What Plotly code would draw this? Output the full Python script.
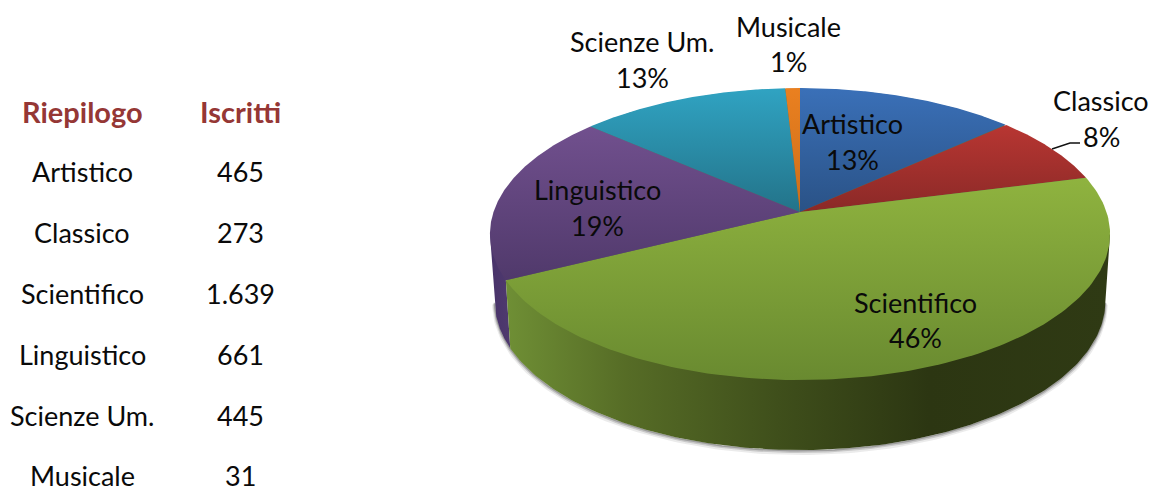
import numpy as np
import plotly.graph_objects as go

categories = ["Artistico", "Classico", "Scientifico", "Linguistico", "Scienze Um.", "Musicale"]
iscritti = [465, 273, 1639, 661, 445, 31]
iscritti_labels = ["465", "273", "1.639", "661", "445", "31"]
percent_labels = ["13%", "8%", "46%", "19%", "13%", "1%"]
top_colors = [("#3a70b8", "#2a5286"), ("#b83632", "#8a2927"), ("#8fb33f", "#698a30"),
              ("#71508e", "#50396b"), ("#30a3c2", "#237389"), ("#ea8020", "#cc6e1a")]
label_pos = [(852, 123, 159), (1101, 100, 136), (915, 302, 337), (597, 189, 225), (642, 41, 77), (788, 26, 61)]
table_rows_y = [171, 232, 293, 354, 415, 475]

CX, CY, R, S, K = 800, 212, 306.5, 142.7, 0.151
FONT = "Lato"


def project(theta, floor=False):
    x, y = np.sin(theta), np.cos(theta)
    w = 1 + K * y
    if floor:
        return CX + 0.985 * R * x / w, CY + 66.6 - 1.02 * S * y / w
    return CX + R * x / w, CY - S * y / w


total = sum(iscritti)
edges = np.concatenate([[0], np.cumsum(iscritti)]) / total * 2 * np.pi
fig = go.Figure()


def arc(a, b, floor=False):
    return project(np.linspace(a, b, 160), floor)


def wall(a, b, stops):
    x1, y1 = arc(a, b)
    inset = np.full(x1.shape, 0.99)
    inset[[0, -1]] = 1.0
    x1, y1 = CX + (x1 - CX) * inset, CY + (y1 - CY) * inset
    x2, y2 = arc(b, a, True)
    fig.add_trace(go.Scatter(
        x=np.r_[x1, x2], y=np.r_[y1, y2], mode="lines", fill="toself", line=dict(width=0),
        fillgradient=dict(type="horizontal", colorscale=stops), hoverinfo="skip", showlegend=False))


# soft shadow under the floor edge
sx, sy = arc(np.radians(99), np.radians(261), True)
for off, width, alpha in [(2.5, 5, 0.10), (1.5, 3, 0.20), (0.8, 1.5, 0.30)]:
    fig.add_trace(go.Scatter(x=sx, y=sy + off, mode="lines", hoverinfo="skip", showlegend=False,
                             line=dict(color=f"rgba(60,60,60,{alpha})", width=width)))

# side walls: Linguistico then Scientifico, each stopping at the silhouette of the disc
wall(edges[3], np.radians(261.3), [[0, "#48326a"], [1, "#4f3a6e"]])
wall(np.radians(98.7), edges[3],
     [[0, "#6f8f35"], [0.2, "#566c26"], [0.45, "#3f4f1b"], [0.7, "#2c3612"], [1, "#2f3a14"]])

# neutral underlay so the seams between slices do not show white
ux, uy = arc(0, 2 * np.pi)
fig.add_trace(go.Scatter(x=CX + (ux - CX) * 0.995, y=CY + (uy - CY) * 0.995, mode="lines", fill="toself",
                         line=dict(width=0), fillcolor="#5a6a50", hoverinfo="skip", showlegend=False))

# top faces
for i in range(len(categories)):
    x, y = arc(edges[i], edges[i + 1])
    c0, c1 = top_colors[i]
    fig.add_trace(go.Scatter(
        x=np.r_[CX, x, CX], y=np.r_[CY, y, CY], mode="lines", fill="toself", name=categories[i],
        line=dict(width=0), fillgradient=dict(type="vertical", colorscale=[[0, c1], [1, c0]]),
        hoverinfo="name", showlegend=False))

# leader line of Classico
lead_x = [1052, 1070, 1080]
lead_y = [149, 143, 143]
fig.add_trace(go.Scatter(x=lead_x, y=lead_y, mode="lines", line=dict(color="#111111", width=1.4),
                         hoverinfo="skip", showlegend=False))

ann = []


def text(x, y, s, size=27, color="#0a0a0a", bold=False):
    ann.append(dict(x=x, y=y, text=f"<b>{s}</b>" if bold else s, showarrow=False, xanchor="center",
                    yanchor="middle", font=dict(family=FONT, size=size, color=color)))


for name, pct, (lx, y1, y2) in zip(categories, percent_labels, label_pos):
    text(lx, y1, name)
    text(lx, y2, pct)

text(82, 111.5, "Riepilogo", size=29, color="#953735", bold=True)
text(240, 111.5, "Iscritti", size=29, color="#953735", bold=True)
for name, lab, y in zip(categories, iscritti_labels, table_rows_y):
    text(82, y, name)
    text(240, y, lab)

fig.update_layout(
    width=1152, height=487, margin=dict(l=0, r=0, t=0, b=0),
    paper_bgcolor="white", plot_bgcolor="white", annotations=ann,
    xaxis=dict(range=[0, 1152], visible=False, fixedrange=True),
    yaxis=dict(range=[487, 0], visible=False, fixedrange=True),
)
page_js = ("document.body.style.margin='0';document.body.style.overflow='hidden';"
           "var st=document.createElement('style');"
           "st.textContent='text{font-variant-ligatures:none}';document.head.appendChild(st);")
fig.write_html("out.html", config=dict(displayModeBar=False), post_script=page_js)
